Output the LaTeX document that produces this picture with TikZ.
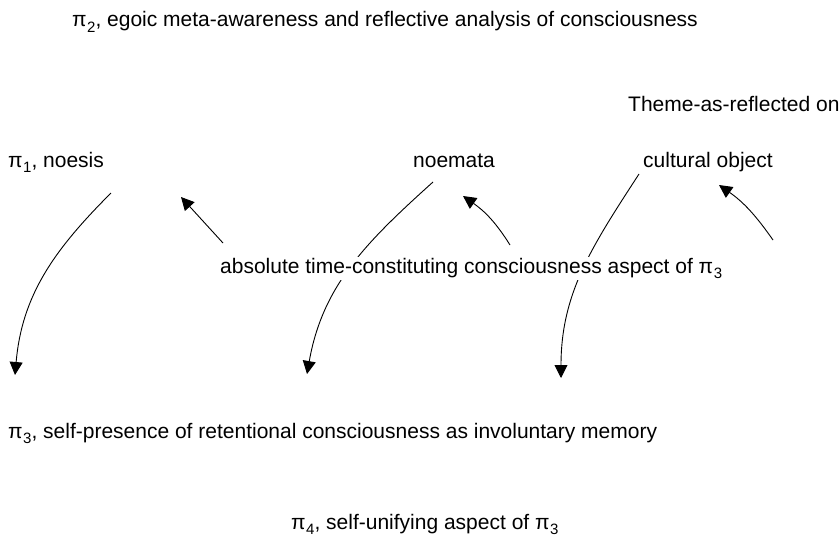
\documentclass[tikz,border=0pt]{standalone}
\usepackage{fontspec}
\setmainfont{Liberation Sans}
\usetikzlibrary{arrows.meta}
\begin{document}
\begin{tikzpicture}[x=1pt,y=1pt,
  lbl/.style={inner sep=0pt, anchor=base west, font=\fontsize{21}{25}\selectfont},
  link/.style={line width=0.9pt, -{Triangle[length=13pt,width=13pt]}}]
\useasboundingbox (0,0) rectangle (840,-538);
\newcommand{\pisym}[1]{π\kern0.5pt\raisebox{-0.28em}{\fontsize{15}{15}\selectfont #1}}
% coordinates of the connector ends
\coordinate (s1) at (111,-193);
\coordinate (t1) at (15,-375);
\coordinate (s2) at (223,-243);
\coordinate (t2) at (181,-197);
\coordinate (s3) at (433,-182);
\coordinate (t3) at (307,-374);
\coordinate (s4) at (510,-245);
\coordinate (t4) at (463,-196);
\coordinate (s5) at (639,-174);
\coordinate (t5) at (561,-378);
\coordinate (s6) at (773,-240);
\coordinate (t6) at (719,-185);
% labels
\node[lbl] (pi2) at (72,-27) {\pisym{2}, egoic meta-awareness and reflective analysis of consciousness};
\node[lbl] (theme) at (628,-111) {Theme-as-reflected on};
\node[lbl] (pi1) at (8,-167) {\pisym{1}, noesis};
\node[lbl] (noemata) at (413,-167) {noemata};
\node[lbl] (cult) at (643,-167) {cultural object};
\node[lbl] (pi3) at (8,-438) {\pisym{3}, self-presence of retentional consciousness as involuntary memory};
\node[lbl] (pi4) at (291,-529) {\pisym{4}, self-unifying aspect of \pisym{3}};
% connectors
\draw[link] (s1) to[out=225,in=85] (t1);
\draw[link] (s2) -- (t2);
\draw[link] (s3) to[out=222,in=80] (t3);
\draw[link] (s4) to[out=122,in=-35] (t4);
\draw[link] (s5) to[out=237,in=90] (t5);
\draw[link] (s6) to[out=125,in=-35] (t6);
% the middle label sits on top of the connectors that cross it
\node[lbl, fill=white, inner ysep=1pt] (abs) at (220,-273) {absolute time-constituting consciousness aspect of \pisym{3}};
\end{tikzpicture}
\end{document}
